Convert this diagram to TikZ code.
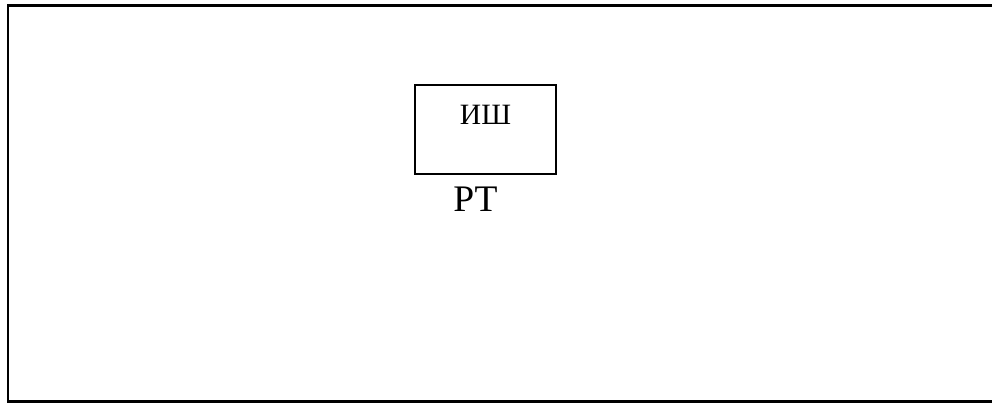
\documentclass[tikz,border=0pt]{standalone}
\usepackage{fontspec}
\setmainfont{Liberation Serif}
\begin{document}
\begin{tikzpicture}[x=1pt,y=1pt,
  frameline/.style={line width=2.8pt,line cap=rect},
  blockbox/.style={draw,line width=2.4pt,minimum width=141pt,minimum height=89pt,inner sep=0pt},
  smalltext/.style={font=\fontsize{29.5}{32}\selectfont,inner sep=0pt,anchor=base},
  bigtext/.style={font=\fontsize{37.5}{40}\selectfont,inner sep=0pt,anchor=base}]
\useasboundingbox (0,0) rectangle (992,403);
% open outer frame (right side runs off the sheet)
\coordinate (tr) at (995,397.5);
\coordinate (tl) at (8,397.5);
\coordinate (bl) at (8,1.6);
\coordinate (br) at (995,1.6);
\draw[frameline] (tr) -- (tl) -- (bl) -- (br);
% block
\node[blockbox] (box) at (485.5,273.5) {};
\node[smalltext] (ish) at (485.5,278) {ИШ};
\node[bigtext] (rt) at (475.5,191) {РТ};
\end{tikzpicture}
\end{document}
